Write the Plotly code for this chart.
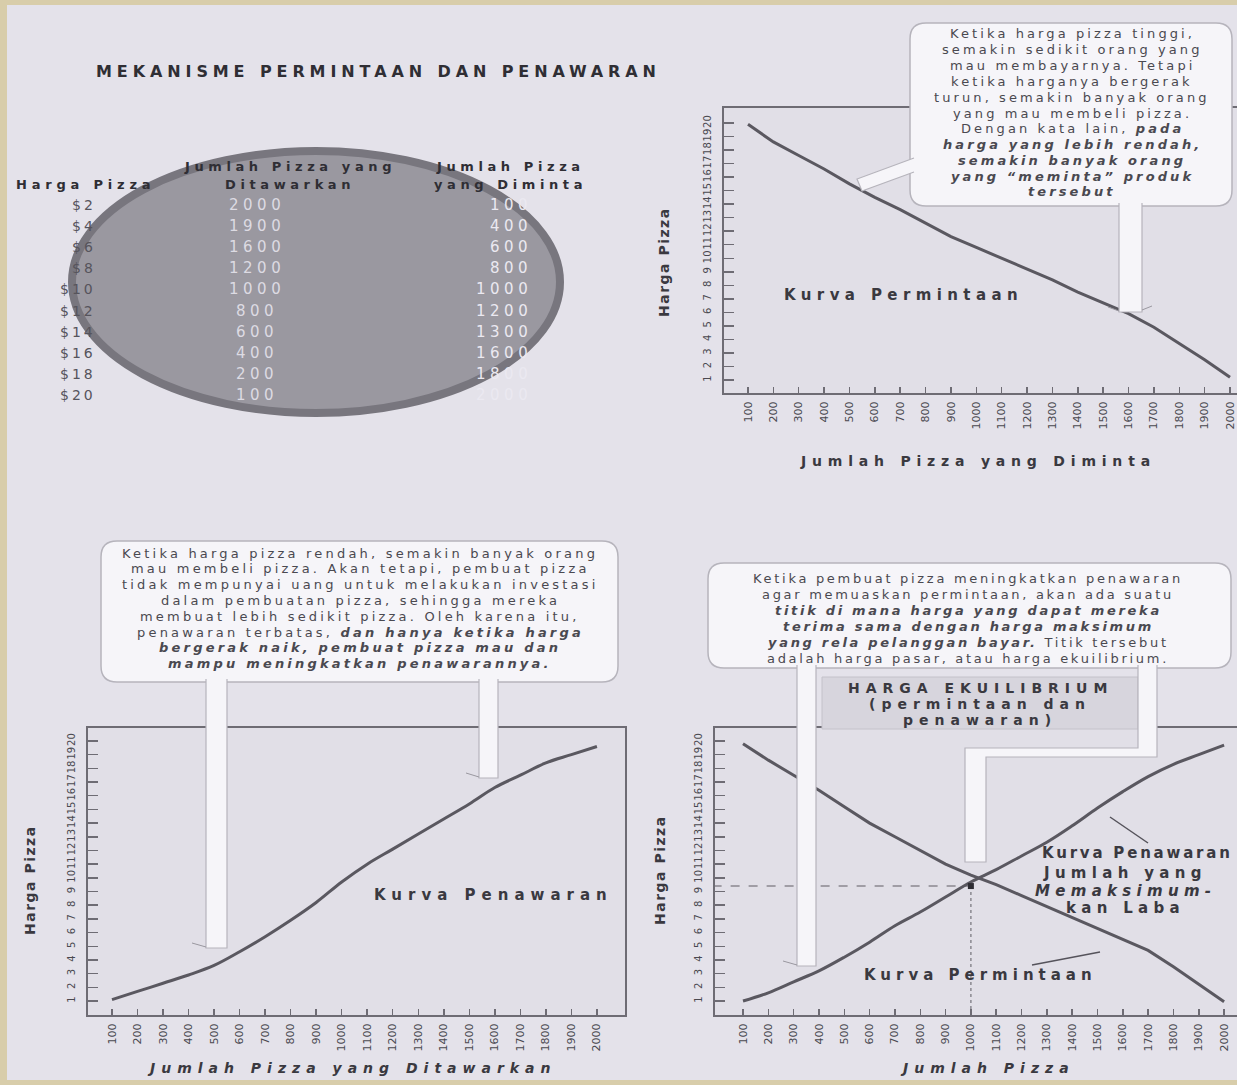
import plotly.graph_objects as go

# ---------------- data ----------------
prices = ["$2", "$4", "$6", "$8", "$10", "$12", "$14", "$16", "$18", "$20"]
qty_offered = [2000, 1900, 1600, 1200, 1000, 800, 600, 400, 200, 100]
qty_demanded = [100, 400, 600, 800, 1000, 1200, 1300, 1600, 1800, 2000]

qty_axis = [100, 200, 300, 400, 500, 600, 700, 800, 900, 1000,
            1100, 1200, 1300, 1400, 1500, 1600, 1700, 1800, 1900, 2000]
price_ticks = list(range(1, 21))

demand_price = [19.9, 18.6, 17.6, 16.6, 15.5, 14.5, 13.6, 12.6, 11.6, 10.8,
                10.0, 9.2, 8.4, 7.5, 6.7, 5.9, 4.9, 3.7, 2.5, 1.2]
supply_price = [1.1, 1.7, 2.3, 2.9, 3.6, 4.6, 5.7, 6.9, 8.2, 9.7,
                11.0, 12.1, 13.2, 14.3, 15.4, 16.6, 17.5, 18.4, 19.0, 19.6]
eq_demand_price = [19.8, 18.6, 17.5, 16.4, 15.2, 14.0, 13.0, 12.0, 11.0, 10.2,
                   9.5, 8.7, 7.9, 7.1, 6.3, 5.5, 4.7, 3.5, 2.2, 0.95]
eq_supply_price = [1.0, 1.6, 2.4, 3.2, 4.2, 5.3, 6.5, 7.5, 8.6, 9.7,
                   10.6, 11.6, 12.6, 13.8, 15.1, 16.3, 17.4, 18.3, 19.0, 19.7]
eq_qty = 1000
eq_price = 9.4

title_text = "MEKANISME PERMINTAAN DAN PENAWARAN"
callout1 = ["Ketika harga pizza tinggi,",
            "semakin sedikit orang yang",
            "mau membayarnya. Tetapi",
            "ketika harganya bergerak",
            "turun, semakin banyak orang",
            "yang mau membeli pizza.",
            "Dengan kata lain, <b><i>pada</i></b>",
            "<b><i>harga yang lebih rendah,</i></b>",
            "<b><i>semakin banyak orang</i></b>",
            "<b><i>yang “meminta” produk</i></b>",
            "<b><i>tersebut</i></b>"]
callout2 = ["Ketika harga pizza rendah, semakin banyak orang",
            "mau membeli pizza. Akan tetapi, pembuat pizza",
            "tidak mempunyai uang untuk melakukan investasi",
            "dalam pembuatan pizza, sehingga mereka",
            "membuat lebih sedikit pizza. Oleh karena itu,",
            "penawaran terbatas, <b><i>dan hanya ketika harga</i></b>",
            "<b><i>bergerak naik, pembuat pizza mau dan</i></b>",
            "<b><i>mampu meningkatkan penawarannya.</i></b>"]
callout3 = ["Ketika pembuat pizza meningkatkan penawaran",
            "agar memuaskan permintaan, akan ada suatu",
            "<b><i>titik di mana harga yang dapat mereka</i></b>",
            "<b><i>terima sama dengan harga maksimum</i></b>",
            "<b><i>yang rela pelanggan bayar.</i></b> Titik tersebut",
            "adalah harga pasar, atau harga ekuilibrium."]
eq_box_text = ["<b>HARGA EKUILIBRIUM</b>", "<b>(permintaan dan</b>", "<b>penawaran)</b>"]
eq_label = ["<b>Kurva Penawaran</b>"]
eq_label2 = ["<b>Jumlah yang</b>", "<b><i>Memaksimum-</i></b>", "<b>kan Laba</b>"]

# ---------------- helpers ----------------
W, H = 1237, 1085
F = "DejaVu Sans"
BG = "#e4e2ea"
INK = "#3a3940"
LINE = "#5a5860"
AX = "#6e6c74"
WHITE = "#f6f5f9"
EDGE = "#b6b4bc"


def X(x):
    return x / W


def Y(y):
    return 1 - y / H


fig = go.Figure()

# ---------------- traces ----------------
fig.add_trace(go.Scatter(x=qty_axis, y=demand_price, mode="lines",
                         line=dict(color=LINE, width=3), xaxis="x", yaxis="y",
                         showlegend=False, hoverinfo="skip"))
fig.add_trace(go.Scatter(x=qty_axis, y=supply_price, mode="lines", line_shape="spline",
                         line=dict(color=LINE, width=3), xaxis="x2", yaxis="y2",
                         showlegend=False, hoverinfo="skip"))
fig.add_trace(go.Scatter(x=[qty_axis[0] - 120, eq_qty], y=[eq_price, eq_price], mode="lines",
                         line=dict(color="#8a8890", width=1.5, dash="dash"), xaxis="x3", yaxis="y3",
                         showlegend=False, hoverinfo="skip"))
fig.add_trace(go.Scatter(x=[eq_qty, eq_qty], y=[eq_price, -1], mode="lines",
                         line=dict(color="#8a8890", width=1.5, dash="dot"), xaxis="x3", yaxis="y3",
                         showlegend=False, hoverinfo="skip"))
fig.add_trace(go.Scatter(x=qty_axis, y=eq_demand_price, mode="lines",
                         line=dict(color=LINE, width=3), xaxis="x3", yaxis="y3",
                         showlegend=False, hoverinfo="skip"))
fig.add_trace(go.Scatter(x=qty_axis, y=eq_supply_price, mode="lines", line_shape="spline",
                         line=dict(color=LINE, width=3), xaxis="x3", yaxis="y3",
                         showlegend=False, hoverinfo="skip"))
fig.add_trace(go.Scatter(x=[eq_qty], y=[eq_price], mode="markers",
                         marker=dict(color="#2e2d33", size=6, symbol="square"),
                         xaxis="x3", yaxis="y3", showlegend=False, hoverinfo="skip"))


def xax(domain, rng, mirror):
    return dict(domain=domain, range=rng, tickvals=qty_axis, ticktext=[str(v) for v in qty_axis],
                tickangle=-90, ticks="inside", ticklen=6, tickwidth=1.5, tickcolor=AX,
                showline=True, linecolor=AX, linewidth=2, mirror=mirror, showgrid=False,
                zeroline=False, tickfont=dict(family=F, size=11, color="#4a4950"), fixedrange=True,
                ticklabelstandoff=2)


def yax(domain, rng, mirror, anchor):
    return dict(domain=domain, range=rng, tickvals=price_ticks, ticktext=[str(v) for v in price_ticks],
                tickangle=-90, ticks="inside", ticklen=10, tickwidth=1.5, tickcolor=AX,
                showline=True, linecolor=AX, linewidth=2, mirror=mirror, showgrid=False,
                zeroline=False, tickfont=dict(family=F, size=10, color="#4a4950"), anchor=anchor,
                fixedrange=True, ticklabelstandoff=7)


fig.update_layout(
    width=W, height=H, autosize=False,
    margin=dict(l=0, r=0, t=0, b=0),
    paper_bgcolor=BG, plot_bgcolor="#e1dfe7",
    xaxis=xax([X(724), 1.0], [5.4, 2027.6], True) | dict(anchor="y"),
    yaxis=yax([Y(393), Y(108)], [0.039, 21.109], False, "x"),
    xaxis2=xax([X(88), X(625)], [6, 2110], True) | dict(anchor="y2"),
    yaxis2=yax([Y(1015), Y(728)], [-0.023, 20.95], True, "x2"),
    xaxis3=xax([X(715), 1.0], [-10.6, 2051], True) | dict(anchor="y3"),
    yaxis3=yax([Y(1015), Y(728)], [-0.023, 20.95], False, "x3"),
)

shapes = []

# page frame (scan border)
for x0, y0, x1, y1 in [(0, 0, 7, H), (0, 0, W, 5), (0, 1080, W, H)]:
    shapes.append(dict(type="rect", xref="paper", yref="paper", x0=X(x0), x1=X(x1), y0=Y(y1), y1=Y(y0),
                       fillcolor="#d8cdaa", line=dict(width=0), layer="above"))

# ellipse behind table
shapes.append(dict(type="circle", xref="paper", yref="paper", x0=X(72), x1=X(560), y0=Y(413), y1=Y(151),
                   fillcolor="#9a98a0", line=dict(color="#78767e", width=8), layer="below"))


def rrect(x0, y0, x1, y1, r):
    return (f"M {X(x0 + r)},{Y(y0)} L {X(x1 - r)},{Y(y0)} Q {X(x1)},{Y(y0)} {X(x1)},{Y(y0 + r)} "
            f"L {X(x1)},{Y(y1 - r)} Q {X(x1)},{Y(y1)} {X(x1 - r)},{Y(y1)} "
            f"L {X(x0 + r)},{Y(y1)} Q {X(x0)},{Y(y1)} {X(x0)},{Y(y1 - r)} "
            f"L {X(x0)},{Y(y0 + r)} Q {X(x0)},{Y(y0)} {X(x0 + r)},{Y(y0)} Z")


def open_path(pts):
    return "M " + " L ".join(f"{X(a)},{Y(b)}" for a, b in pts)


# callout boxes
for box in [(910, 23, 1232, 206), (101, 541, 618, 682), (708, 563, 1231, 668)]:
    shapes.append(dict(type="path", xref="paper", yref="paper", path=rrect(*box, 16),
                       fillcolor=WHITE, line=dict(color=EDGE, width=1.5), layer="above"))

# equilibrium title box
shapes.append(dict(type="rect", xref="paper", yref="paper", x0=X(822), x1=X(1138), y0=Y(729), y1=Y(677),
                   fillcolor="#d7d5dd", line=dict(color="#c4c2ca", width=1), layer="above"))

# white pointer strips (open paths: no stroke along the joint with the box)
strips = [
    [(1119, 203), (1119, 312), (1142, 312), (1142, 203)],
    [(914, 158), (857, 179), (862, 191), (914, 172)],
    [(206, 679), (206, 948), (227, 948), (227, 679)],
    [(479, 679), (479, 778), (498, 778), (498, 679)],
    [(797, 665), (797, 966), (816, 966), (816, 665)],
    [(1138, 665), (1138, 748), (965, 748), (965, 862), (986, 862), (986, 757), (1157, 757), (1157, 665)],
]
for pts in strips:
    shapes.append(dict(type="path", xref="paper", yref="paper", path=open_path(pts),
                       fillcolor=WHITE, line=dict(color=EDGE, width=1.2), layer="above"))

# small barbs at the strip tips
for (a, b), (c, d) in [((1108, 307), (1119, 311)), ((192, 943), (206, 947)), ((466, 773), (479, 777)),
                       ((783, 961), (797, 965)), ((1142, 310), (1152, 306))]:
    shapes.append(dict(type="line", xref="paper", yref="paper", x0=X(a), y0=Y(b), x1=X(c), y1=Y(d),
                       line=dict(color="#9a98a0", width=1), layer="above"))

# leader lines for bottom-right labels
for (a, b), (c, d) in [((1110, 817), (1148, 843)), ((1032, 965), (1100, 952))]:
    shapes.append(dict(type="line", xref="paper", yref="paper", x0=X(a), y0=Y(b), x1=X(c), y1=Y(d),
                       line=dict(color="#55535b", width=1.5), layer="above"))

fig.update_layout(shapes=shapes)


def text(t, x, y, size, ls, color=INK, anchor="center", angle=0):
    fig.add_annotation(xref="paper", yref="paper", x=X(x), y=Y(y),
                       text=f'<span style="letter-spacing:{ls}px">{t}</span>',
                       showarrow=False, xanchor=anchor, yanchor="middle", textangle=angle,
                       font=dict(family=F, size=size, color=color))


def block(lines, x, y0, dy, size, ls, color=INK, anchor="center"):
    for i, t in enumerate(lines):
        text(t, x, y0 + i * dy, size, ls, color, anchor)


# title
text(f"<b>{title_text}</b>", 378, 72, 16, 4.9, "#2f2e34")

# table headers
text("<b>Harga Pizza</b>", 14, 184, 13, 4.8, "#2f2e34", "left")
block(["<b>Jumlah Pizza yang</b>", "<b>Ditawarkan</b>"], 290, 166, 18, 13, 4.6, "#2f2e34")
block(["<b>Jumlah Pizza</b>", "<b>yang Diminta</b>"], 510, 166, 18, 13, 4.6, "#2f2e34")

row_y0, row_dy = 205, 21.1
for i, p in enumerate(prices):
    text(p, 98, row_y0 + i * row_dy, 14, 3.0, "#56545c", "right")
for i, v in enumerate(qty_offered):
    text(str(v), 257, row_y0 + i * row_dy, 15, 4.5, "#dddbe3")
for i, v in enumerate(qty_demanded):
    text(str(v), 534, row_y0 + i * row_dy, 15, 4.5, "#ebe9f1", "right")

# callouts
block(callout1, 1072, 34, 15.8, 13, 3.1, "#4a4950")
block(callout2, 360, 553, 15.8, 13, 3.2, "#4a4950")
block(callout3, 968, 578, 16.0, 13, 2.7, "#4a4950")
block(eq_box_text, 980, 688, 16, 14, 6.0, "#3a3940")

# curve labels
text("<b>Kurva Permintaan</b>", 903, 295, 15, 5.4)
text("<b>Kurva Penawaran</b>", 493, 895, 15, 6.0)
text("<b>Kurva Permintaan</b>", 980, 975, 15, 5.0)
block(eq_label, 1040, 853, 17, 15, 2.8, INK, "left")
block(eq_label2, 1125, 873, 17.5, 15, 5.3)

# axis titles
text("<b>Harga Pizza</b>", 664, 262, 14, 1.5, INK, angle=-90)
text("<b>Harga Pizza</b>", 30, 880, 14, 1.5, INK, angle=-90)
text("<b>Harga Pizza</b>", 660, 870, 14, 1.5, INK, angle=-90)
text("<b>Jumlah Pizza yang Diminta</b>", 978, 461, 14, 5.8)
text("<b><i>Jumlah Pizza yang Ditawarkan</i></b>", 352, 1068, 14, 6.0)
text("<b><i>Jumlah Pizza</i></b>", 987, 1068, 14, 6.0)

fig.write_html("out.html", config={"displayModeBar": False, "staticPlot": True},
               post_script="document.body.style.margin='0';document.body.style.overflow='hidden';")
